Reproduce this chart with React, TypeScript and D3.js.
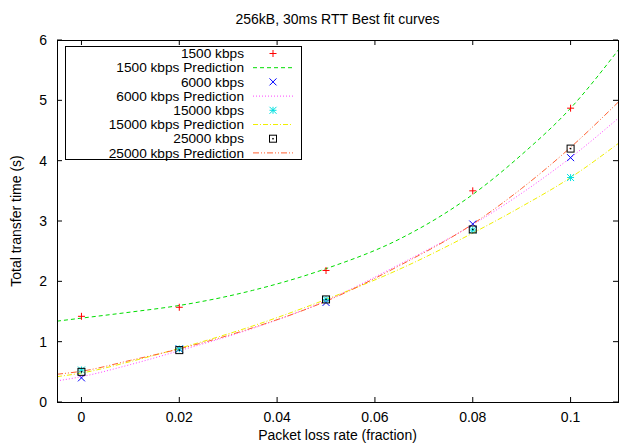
import React from "react";
import * as d3 from "d3";

// Measured points
const lossRates = [0, 0.02, 0.05, 0.08, 0.1];
const meas1500 = [1.42, 1.57, 2.18, 3.5, 4.87];
const meas6000 = [0.4, 0.88, 1.65, 2.95, 4.05];
const meas15000 = [0.53, 0.88, 1.7, 2.85, 3.72];
const meas25000 = [0.5, 0.86, 1.7, 2.86, 4.2];

// Prediction curves
const predX = [-0.005, 0, 0.01, 0.02, 0.035, 0.05, 0.065, 0.08, 0.09, 0.1, 0.11];
const pred1500 = [1.34, 1.39, 1.49, 1.6, 1.85, 2.21, 2.7, 3.44, 4.1, 4.87, 5.86];
const pred6000 = [0.35, 0.42, 0.62, 0.85, 1.22, 1.68, 2.28, 2.94, 3.46, 4.05, 4.72];
const pred15000 = [0.42, 0.48, 0.67, 0.89, 1.26, 1.7, 2.2, 2.8, 3.24, 3.72, 4.3];
const pred25000 = [0.46, 0.51, 0.69, 0.88, 1.23, 1.67, 2.26, 2.95, 3.54, 4.22, 4.99];

const xTicks = [0, 0.02, 0.04, 0.06, 0.08, 0.1];
const xTickLabels = ["0", "0.02", "0.04", "0.06", "0.08", "0.1"];
const yTicks = [0, 1, 2, 3, 4, 5, 6];

const title = "256kB, 30ms RTT Best fit curves";
const xTitle = "Packet loss rate (fraction)";
const yTitle = "Total transfer time (s)";

const W = 619, H = 443;
const L = 57, R = 618, T = 40, B = 402;
const FONT = "'Liberation Sans', Arial, sans-serif";
const FS = 14;

type Marker = "plus" | "cross" | "star" | "box";

function MarkerShape({ kind, x, y, color }: { kind: Marker; x: number; y: number; color: string }) {
  const s = 3.5;
  if (kind === "plus")
    return <path d={`M${x - s},${y}H${x + s}M${x},${y - s}V${y + s}`} stroke={color} strokeWidth={1} fill="none" />;
  if (kind === "cross")
    return <path d={`M${x - s},${y - s}L${x + s},${y + s}M${x - s},${y + s}L${x + s},${y - s}`} stroke={color} strokeWidth={1} fill="none" />;
  if (kind === "star")
    return (
      <path
        d={`M${x - s},${y}H${x + s}M${x},${y - s}V${y + s}M${x - s},${y - s}L${x + s},${y + s}M${x - s},${y + s}L${x + s},${y - s}`}
        stroke={color}
        strokeWidth={1}
        fill="none"
      />
    );
  return (
    <g>
      <rect x={x - s} y={y - s} width={2 * s} height={2 * s} stroke={color} strokeWidth={1} fill="none" />
      <rect x={x - 0.75} y={y - 0.75} width={1.5} height={1.5} fill={color} />
    </g>
  );
}

export default function App() {
  const x = d3.scaleLinear().domain([-0.005, 0.11]).range([L, R + 1.5]);
  const y = d3.scaleLinear().domain([0, 6]).range([B, T]);

  const line = d3
    .line<number>()
    .x((_, i) => x(predX[i]))
    .y((d) => y(d))
    .curve(d3.curveMonotoneX);

  const preds = [
    { name: "1500 kbps Prediction", values: pred1500, color: "#00dd00", dash: "4,3" },
    { name: "6000 kbps Prediction", values: pred6000, color: "#ff44ff", dash: "1,2" },
    { name: "15000 kbps Prediction", values: pred15000, color: "#f0f000", dash: "5,2,1,2" },
    { name: "25000 kbps Prediction", values: pred25000, color: "#ff6030", dash: "6,2,1,2,1,2" },
  ];
  const meas: { name: string; values: number[]; color: string; kind: Marker }[] = [
    { name: "1500 kbps", values: meas1500, color: "#ff0000", kind: "plus" },
    { name: "6000 kbps", values: meas6000, color: "#0000ff", kind: "cross" },
    { name: "15000 kbps", values: meas15000, color: "#00e0e0", kind: "star" },
    { name: "25000 kbps", values: meas25000, color: "#000000", kind: "box" },
  ];

  const legendRows: { name: string; meas?: (typeof meas)[number]; pred?: (typeof preds)[number] }[] = [];
  for (let i = 0; i < 4; i++) {
    legendRows.push({ name: meas[i].name, meas: meas[i] });
    legendRows.push({ name: preds[i].name, pred: preds[i] });
  }

  const tick = 5;

  return (
    <svg width={W} height={H} style={{ position: "absolute", left: 0, top: 0, background: "#fff" }} fontFamily={FONT}>
      <rect x={0} y={0} width={W} height={H} fill="#fff" />
      <text x={(L + R) / 2} y={24} textAnchor="middle" fontSize={FS}>
        {title}
      </text>

      <defs>
        <clipPath id="plotclip">
          <rect x={L} y={T} width={R - L + 2} height={B - T} />
        </clipPath>
      </defs>

      {/* ticks */}
      {yTicks.map((t) => (
        <g key={"y" + t}>
          <line x1={L} x2={L + tick} y1={y(t)} y2={y(t)} stroke="#000" />
          <line x1={R - tick} x2={R} y1={y(t)} y2={y(t)} stroke="#000" />
          <text x={47} y={y(t) + 5} textAnchor="end" fontSize={FS}>
            {t}
          </text>
        </g>
      ))}
      {xTicks.map((t, i) => (
        <g key={"x" + t}>
          <line x1={x(t)} x2={x(t)} y1={B} y2={B - tick} stroke="#000" />
          <line x1={x(t)} x2={x(t)} y1={T} y2={T + tick} stroke="#000" />
          <text x={x(t)} y={B + 20} textAnchor="middle" fontSize={FS}>
            {xTickLabels[i]}
          </text>
        </g>
      ))}

      <text x={(L + R) / 2} y={440} textAnchor="middle" fontSize={FS}>
        {xTitle}
      </text>
      <text transform={`translate(21,${(T + B) / 2}) rotate(-90)`} textAnchor="middle" fontSize={FS}>
        {yTitle}
      </text>

      {/* curves */}
      <g clipPath="url(#plotclip)">
        {preds.map((p) => (
          <path key={p.name} d={line(p.values) || ""} fill="none" stroke={p.color} strokeWidth={1} strokeDasharray={p.dash} />
        ))}
        {meas.map((m) =>
          m.values.map((v, i) => <MarkerShape key={m.name + i} kind={m.kind} x={x(lossRates[i])} y={y(v)} color={m.color} />)
        )}
      </g>

      {/* legend */}
      <rect x={65.5} y={46.5} width={236} height={113} fill="#fff" stroke="#000" strokeWidth={1} />
      {legendRows.map((r, i) => {
        const ly = 53.5 + i * 14.2;
        return (
          <g key={r.name}>
            <text transform={`translate(244,${ly + 4.6}) scale(1.14,1.05)`} textAnchor="end" fontSize={12}>
              {r.name}
            </text>
            {r.meas && <MarkerShape kind={r.meas.kind} x={273} y={ly} color={r.meas.color} />}
            {r.pred && <line x1={253} x2={293} y1={ly} y2={ly} stroke={r.pred.color} strokeDasharray={r.pred.dash} />}
          </g>
        );
      })}

      {/* border */}
      <rect x={L + 0.5} y={T + 0.5} width={R - L} height={B - T} fill="none" stroke="#000" strokeWidth={1} />
    </svg>
  );
}
